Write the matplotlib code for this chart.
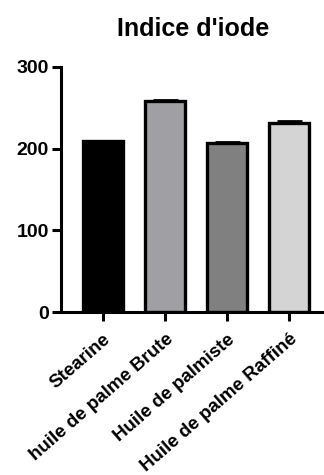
import numpy as np
import matplotlib
matplotlib.use("Agg")
import matplotlib.pyplot as plt

plt.rcParams['font.family'] = ['Liberation Sans', 'DejaVu Sans']

categories = ["Stearine", "huile de palme Brute", "Huile de palmiste", "Huile de palme Raffiné"]
values = [209, 258.5, 207, 232]
errors = [1, 1.5, 1, 1.5]
colors = ["#000000", "#a0a0a4", "#808080", "#d4d4d4"]
yticks = [0, 100, 200, 300]

fig = plt.figure(figsize=(3.24, 4.75), dpi=100)
ax = fig.add_axes([0.188, 0.343, 0.812, 0.516])

x = np.arange(len(categories))
ax.bar(x, values, width=0.64, color=colors, edgecolor="black", linewidth=2.4, zorder=2)
ax.errorbar(x, values, yerr=[np.zeros(len(errors)), errors], fmt="none", ecolor="black",
            elinewidth=2, capsize=9, capthick=2, zorder=3)

ax.set_xlim(-0.68, 3.56)
ax.set_ylim(0, 300)
ax.set_yticks(yticks)
ax.set_xticks(x)
ax.set_xticklabels(categories, rotation=41, ha="right", va="top", rotation_mode="anchor",
                   fontsize=13.5, fontweight="bold")
for lab in ax.get_yticklabels():
    lab.set_fontweight("bold")
    lab.set_fontsize(14)

for s in ["top", "right"]:
    ax.spines[s].set_visible(False)
for s in ["left", "bottom"]:
    ax.spines[s].set_linewidth(2.2)
ax.tick_params(axis="both", width=2.2, length=6.5, pad=2)
ax.tick_params(axis="x", pad=7)

fig.text(0.596, 0.94, "Indice d'iode", ha="center", va="center", fontsize=18, fontweight="bold")

fig.savefig("out.png", dpi=100)
